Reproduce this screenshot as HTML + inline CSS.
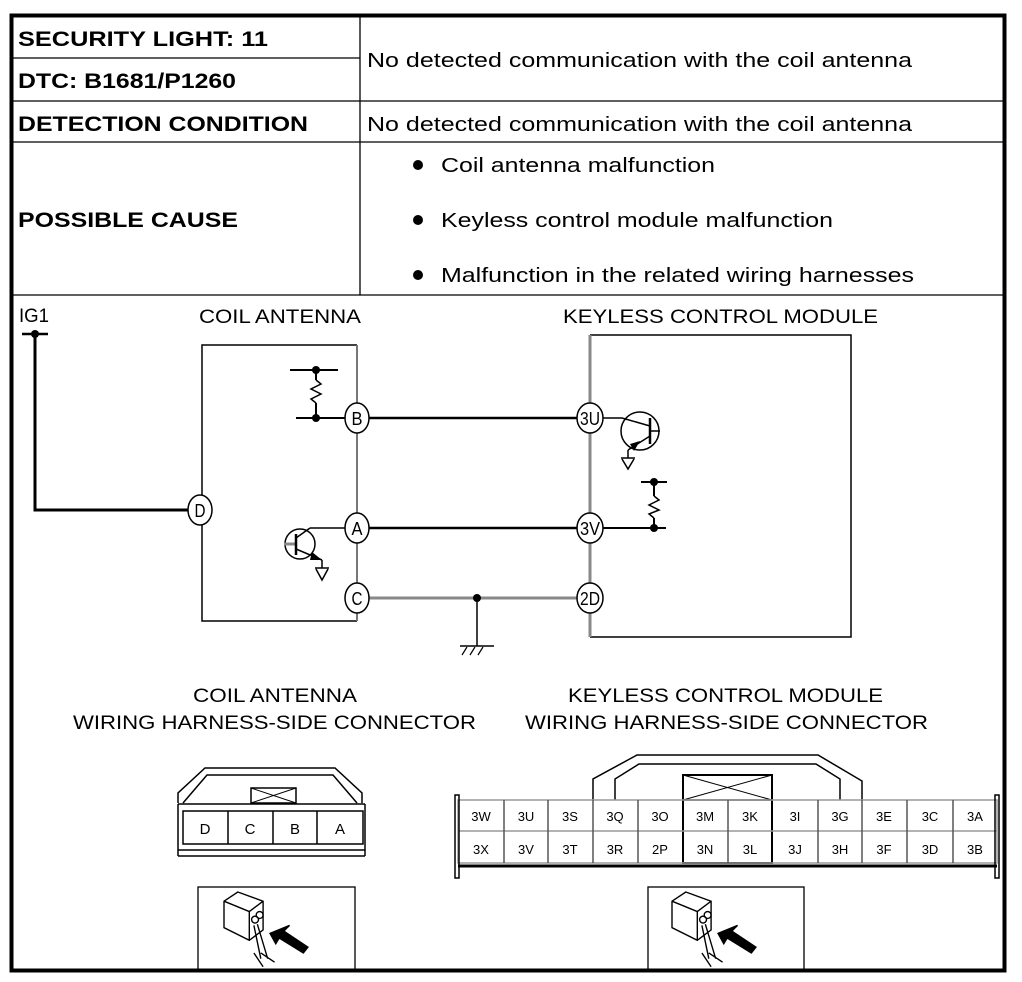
<!DOCTYPE html>
<html><head><meta charset="utf-8"><style>
html,body{margin:0;padding:0;background:#fff}
svg{display:block}
text{font-family:"Liberation Sans",sans-serif;fill:#000}
</style></head><body>
<svg width="1022" height="982" viewBox="0 0 1022 982" xmlns="http://www.w3.org/2000/svg">
<rect x="0" y="0" width="1022" height="982" fill="#fff"/>
<g stroke="#000" stroke-width="1.3" fill="none">
<line x1="12" y1="58" x2="360" y2="58"/>
<line x1="12" y1="101" x2="1005" y2="101"/>
<line x1="12" y1="142" x2="1005" y2="142"/>
<line x1="12" y1="295" x2="1005" y2="295"/>
<line x1="360" y1="16" x2="360" y2="295"/>
</g>
<g font-weight="bold" font-size="21">
<text x="18" y="46" textLength="250" lengthAdjust="spacingAndGlyphs">SECURITY LIGHT: 11</text>
<text x="18" y="88" textLength="218" lengthAdjust="spacingAndGlyphs">DTC: B1681/P1260</text>
<text x="18" y="131" textLength="290" lengthAdjust="spacingAndGlyphs">DETECTION CONDITION</text>
<text x="18" y="227" textLength="220" lengthAdjust="spacingAndGlyphs">POSSIBLE CAUSE</text>
</g>
<g font-size="20">
<text x="367" y="67" textLength="545" lengthAdjust="spacingAndGlyphs">No detected communication with the coil antenna</text>
<text x="367" y="131" textLength="545" lengthAdjust="spacingAndGlyphs">No detected communication with the coil antenna</text>
<text x="441" y="172" textLength="274" lengthAdjust="spacingAndGlyphs">Coil antenna malfunction</text>
<text x="441" y="227" textLength="392" lengthAdjust="spacingAndGlyphs">Keyless control module malfunction</text>
<text x="441" y="282" textLength="473" lengthAdjust="spacingAndGlyphs">Malfunction in the related wiring harnesses</text>
</g>
<circle cx="418" cy="165" r="5"/><circle cx="418" cy="220" r="5"/><circle cx="418" cy="275" r="5"/>

<g font-size="19">
<text x="19" y="322" textLength="30" lengthAdjust="spacingAndGlyphs">IG1</text>
<text x="199" y="323" textLength="162" lengthAdjust="spacingAndGlyphs">COIL ANTENNA</text>
<text x="563" y="323" textLength="315" lengthAdjust="spacingAndGlyphs">KEYLESS CONTROL MODULE</text>
<text x="193" y="702" textLength="164" lengthAdjust="spacingAndGlyphs">COIL ANTENNA</text>
<text x="73" y="729" textLength="403" lengthAdjust="spacingAndGlyphs">WIRING HARNESS-SIDE CONNECTOR</text>
<text x="568" y="702" textLength="315" lengthAdjust="spacingAndGlyphs">KEYLESS CONTROL MODULE</text>
<text x="525" y="729" textLength="403" lengthAdjust="spacingAndGlyphs">WIRING HARNESS-SIDE CONNECTOR</text>
</g>

<g stroke="#000" fill="none">
<line x1="22" y1="334" x2="48" y2="334" stroke-width="2.5"/>
<polyline points="35,334 35,510 190,510" stroke-width="3"/>
</g>
<circle cx="35" cy="334" r="4"/>

<g fill="none" stroke-width="1.5">
<polyline points="357,345 202,345 202,621 357,621" stroke="#000"/>
<line x1="357" y1="345" x2="357" y2="621" stroke="#777" stroke-width="2"/>
<polyline points="590,335 851,335 851,637 590,637" stroke="#000"/>
<line x1="590" y1="335" x2="590" y2="637" stroke="#888" stroke-width="3"/>
</g>

<g fill="none">
<line x1="369" y1="418" x2="578" y2="418" stroke="#000" stroke-width="2.5"/>
<line x1="369" y1="528" x2="578" y2="528" stroke="#000" stroke-width="2.5"/>
<line x1="369" y1="598" x2="578" y2="598" stroke="#888" stroke-width="3"/>
<line x1="477" y1="598" x2="477" y2="646" stroke="#000" stroke-width="1.5"/>
<line x1="460" y1="646" x2="494" y2="646" stroke="#000" stroke-width="1.5"/>
<path d="M462,655 L467,647 M470,655 L475,647 M478,655 L483,647" stroke="#000" stroke-width="1.2"/>
</g>
<circle cx="477" cy="598" r="4"/>

<g stroke="#000" fill="none" stroke-width="2">
<line x1="290" y1="370" x2="338" y2="370"/>
<line x1="316" y1="370" x2="316" y2="380"/>
<polyline points="316,380 321,384 311,389 321,394 311,399 316,403" stroke-width="1.5"/>
<line x1="316" y1="403" x2="316" y2="418"/>
<line x1="296" y1="418" x2="345" y2="418"/>
</g>
<circle cx="316" cy="370" r="4"/><circle cx="316" cy="418" r="4"/>

<g stroke="#000" fill="none" stroke-width="1.5">
<circle cx="300" cy="544" r="15"/>
<line x1="284" y1="544" x2="296" y2="544" stroke="#888" stroke-width="3"/>
<line x1="296" y1="534" x2="296" y2="555" stroke-width="2.5"/>
<line x1="296" y1="538" x2="310" y2="528"/>
<line x1="310" y1="528" x2="345" y2="528"/>
<line x1="296" y1="549" x2="322" y2="560"/>
<line x1="322" y1="560" x2="322" y2="568"/>
<line x1="315" y1="568" x2="329" y2="568"/>
<polyline points="316,569 322,580 328,569"/>
</g>
<polygon points="312,552 322,560 310,560"/>

<g stroke="#000" fill="none" stroke-width="1.5">
<circle cx="640" cy="431" r="19"/>
<line x1="650" y1="418" x2="650" y2="444" stroke-width="2.5"/>
<line x1="650" y1="431" x2="660" y2="431"/>
<line x1="602" y1="418" x2="622" y2="418"/>
<line x1="622" y1="418" x2="650" y2="426"/>
<line x1="650" y1="436" x2="628" y2="450"/>
<line x1="628" y1="450" x2="628" y2="458"/>
<line x1="621" y1="458" x2="635" y2="458"/>
<polyline points="622,459 628,469 634,459"/>
</g>
<polygon points="630,444 640,441 634,451"/>

<g stroke="#000" fill="none" stroke-width="2">
<line x1="641" y1="482" x2="667" y2="482"/>
<line x1="654" y1="482" x2="654" y2="496"/>
<polyline points="654,496 659,500 649,505 659,510 649,514 654,518" stroke-width="1.5"/>
<line x1="654" y1="518" x2="654" y2="528"/>
<line x1="602" y1="528" x2="666" y2="528"/>
</g>
<circle cx="654" cy="482" r="4"/><circle cx="654" cy="528" r="4"/>

<g fill="#fff" stroke="#000" stroke-width="1.5">
<ellipse cx="200" cy="510" rx="12" ry="15"/>
<ellipse cx="357" cy="418" rx="12" ry="15"/>
<ellipse cx="357" cy="528" rx="12" ry="15"/>
<ellipse cx="357" cy="598" rx="12" ry="15"/>
<ellipse cx="590" cy="418" rx="13" ry="15"/>
<ellipse cx="590" cy="528" rx="13" ry="15"/>
<ellipse cx="590" cy="598" rx="13" ry="15"/>
</g>
<g font-size="18" text-anchor="middle">
<text x="200" y="517" textLength="11" lengthAdjust="spacingAndGlyphs">D</text>
<text x="357" y="425" textLength="11" lengthAdjust="spacingAndGlyphs">B</text>
<text x="357" y="535" textLength="11" lengthAdjust="spacingAndGlyphs">A</text>
<text x="357" y="605" textLength="11" lengthAdjust="spacingAndGlyphs">C</text>
<text x="590" y="425" textLength="20" lengthAdjust="spacingAndGlyphs">3U</text>
<text x="590" y="535" textLength="20" lengthAdjust="spacingAndGlyphs">3V</text>
<text x="590" y="605" textLength="20" lengthAdjust="spacingAndGlyphs">2D</text>
</g>

<g stroke="#000" fill="none" stroke-width="1.5">
<polyline points="178,803 178,793 205,768 335,768 362,793 362,803"/>
<polyline points="183,803 207,775 333,775 357,803"/>
<line x1="178" y1="804" x2="365" y2="804"/>
<line x1="178" y1="804" x2="178" y2="856"/>
<line x1="365" y1="804" x2="365" y2="856"/>
<rect x="183" y="811" width="180" height="33"/>
<line x1="228" y1="811" x2="228" y2="844"/>
<line x1="273" y1="811" x2="273" y2="844"/>
<line x1="317" y1="811" x2="317" y2="844"/>
<line x1="178" y1="850" x2="365" y2="850"/>
<line x1="178" y1="856" x2="365" y2="856"/>
<rect x="251" y="788" width="45" height="15"/>
<path d="M251,788 L296,803 M296,788 L251,803" stroke-width="1"/>
</g>
<g font-size="15" text-anchor="middle">
<text x="205" y="834">D</text><text x="250" y="834">C</text><text x="295" y="834">B</text><text x="340" y="834">A</text>
</g>

<g stroke="#000" fill="none" stroke-width="1.5">
<polyline points="593,800 593,779 637,755 818,755 862,781 862,800"/>
<polyline points="615,800 615,779 639,764 816,764 840,779 840,800"/>
<rect x="683" y="775" width="89" height="88" stroke-width="2"/>
<path d="M683,775 L772,800 M772,775 L683,800" stroke-width="1"/>
<line x1="683" y1="800" x2="772" y2="800"/>
<rect x="458" y="800" width="539" height="63" stroke="#999"/>
<line x1="458" y1="831" x2="997" y2="831" stroke="#999"/>
<line x1="458" y1="866" x2="997" y2="866" stroke-width="3"/>
<rect x="455" y="795" width="4" height="83" stroke-width="1.5"/>
<rect x="995" y="795" width="4" height="83" stroke-width="1.5"/>
<g stroke="#555">
<line x1="504" y1="800" x2="504" y2="863"/><line x1="548" y1="800" x2="548" y2="863"/>
<line x1="593" y1="800" x2="593" y2="863"/><line x1="638" y1="800" x2="638" y2="863"/>
<line x1="728" y1="800" x2="728" y2="863"/>
<line x1="818" y1="800" x2="818" y2="863"/><line x1="862" y1="800" x2="862" y2="863"/>
<line x1="907" y1="800" x2="907" y2="863"/><line x1="953" y1="800" x2="953" y2="863"/>
</g>
</g>
<g font-size="13" text-anchor="middle" fill="#222">
<text x="481" y="821">3W</text><text x="526" y="821">3U</text><text x="570" y="821">3S</text><text x="615" y="821">3Q</text><text x="660" y="821">3O</text><text x="705" y="821">3M</text><text x="750" y="821">3K</text><text x="795" y="821">3I</text><text x="840" y="821">3G</text><text x="884" y="821">3E</text><text x="930" y="821">3C</text><text x="975" y="821">3A</text>
<text x="481" y="854">3X</text><text x="526" y="854">3V</text><text x="570" y="854">3T</text><text x="615" y="854">3R</text><text x="660" y="854">2P</text><text x="705" y="854">3N</text><text x="750" y="854">3L</text><text x="795" y="854">3J</text><text x="840" y="854">3H</text><text x="884" y="854">3F</text><text x="930" y="854">3D</text><text x="975" y="854">3B</text>
</g>

<rect x="198" y="887" width="157" height="84" fill="none" stroke="#000" stroke-width="1.3"/>
<rect x="648" y="887" width="156" height="84" fill="none" stroke="#000" stroke-width="1.3"/>
<g transform="translate(224,892) scale(1.15) translate(-224,-897)" stroke="#000" fill="none" stroke-width="1.2">
<path d="M224,905 L236,897 L258,905 L258,930 L246,939 L224,928 Z M224,905 L246,914 L258,905 M246,914 L246,939"/>
<circle cx="251" cy="921" r="3"/><circle cx="255" cy="917" r="3"/>
<path d="M250,926 L256,955 M253,925 L262,955 M256,950 L268,958 M250,950 L258,962"/>
<polygon points="264,933 281,926 276,931 297,945 293,950 272,937 269,942" fill="#000"/>
</g>
<g transform="translate(672,892) scale(1.15) translate(-224,-897)" stroke="#000" fill="none" stroke-width="1.2">
<path d="M224,905 L236,897 L258,905 L258,930 L246,939 L224,928 Z M224,905 L246,914 L258,905 M246,914 L246,939"/>
<circle cx="251" cy="921" r="3"/><circle cx="255" cy="917" r="3"/>
<path d="M250,926 L256,955 M253,925 L262,955 M256,950 L268,958 M250,950 L258,962"/>
<polygon points="264,933 281,926 276,931 297,945 293,950 272,937 269,942" fill="#000"/>
</g>
<rect x="11.5" y="15.5" width="993" height="955" fill="none" stroke="#000" stroke-width="4"/>
</svg>
</body></html>
